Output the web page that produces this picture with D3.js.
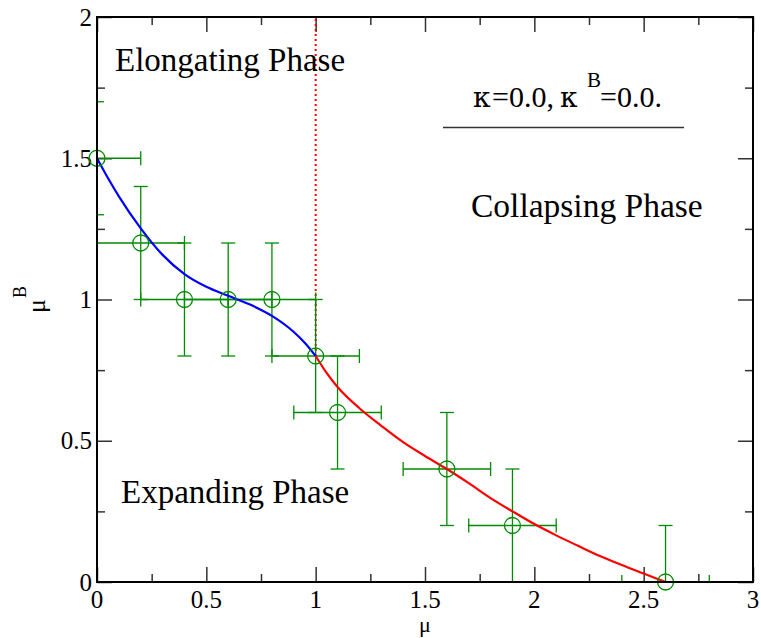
<!DOCTYPE html>
<html>
<head>
<meta charset="utf-8">
<script src="https://cdn.jsdelivr.net/npm/d3@7"></script>
<style>
  body { margin: 0; background: #fff; }
  svg { display: block; }
  text { font-family: "Liberation Serif", "Times New Roman", serif; fill: #000; }
</style>
</head>
<body>
<svg id="chart"></svg>
<script>
// measured points with error bars
const pointMu  = [0.0, 0.2, 0.4, 0.6, 0.8, 1.0, 1.1, 1.6, 1.9, 2.6];
const pointMuB = [1.5, 1.2, 1.0, 1.0, 1.0, 0.8, 0.6, 0.4, 0.2, 0.0];
const errMu    = [0.2, 0.2, 0.2, 0.2, 0.2, 0.2, 0.2, 0.2, 0.2, 0.2];
const errMuB   = [0.2, 0.2, 0.2, 0.2, 0.2, 0.2, 0.2, 0.2, 0.2, 0.2];

// blue boundary (elongating / expanding)
const blueMu  = [0.0, 0.05, 0.1, 0.2, 0.3, 0.4, 0.5, 0.6, 0.7, 0.8, 0.9, 0.95, 1.0];
const blueMuB = [1.5, 1.43, 1.365, 1.252, 1.158, 1.09, 1.045, 1.013, 0.982, 0.942, 0.885, 0.847, 0.8];

// red boundary (collapsing / expanding)
const redMu  = [1.0, 1.05, 1.1, 1.2, 1.3, 1.4, 1.5, 1.6, 1.7, 1.8, 1.9, 2.0, 2.1, 2.2, 2.3, 2.4, 2.5, 2.6];
const redMuB = [0.8, 0.74, 0.69, 0.615, 0.553, 0.495, 0.446, 0.40, 0.35, 0.297, 0.25, 0.205, 0.165, 0.128, 0.092, 0.06, 0.03, 0.0];

// dotted vertical boundary
const boundaryMu = 1.0;
const boundaryMuB = [0.8, 2.0];

const xTicks = [0, 0.5, 1, 1.5, 2, 2.5, 3];
const yTicks = [0, 0.5, 1, 1.5, 2];
const xMinor = [0.25, 0.75, 1.25, 1.75, 2.25, 2.75];
const yMinor = [0.25, 0.75, 1.25, 1.75];

const W = 761, H = 638;
const margin = {top: 17, right: 8, bottom: 56, left: 97};
const iw = W - margin.left - margin.right;
const ih = H - margin.top - margin.bottom;

const svg = d3.select('#chart').attr('width', W).attr('height', H);
const g = svg.append('g').attr('transform', `translate(${margin.left},${margin.top})`);

const x = d3.scaleLinear().domain([0, 3]).range([0, iw]);
const y = d3.scaleLinear().domain([0, 2]).range([ih, 0]);

g.append('clipPath').attr('id', 'plotclip')
  .append('rect').attr('width', iw).attr('height', ih);

// ticks on all four sides, pointing inward
function xSet(vals, len) {
  g.append('g').call(d3.axisBottom(x).tickValues(vals).tickSize(len).tickFormat(''))
    .attr('transform', `translate(0,${ih}) scale(1,-1)`);
  g.append('g').call(d3.axisBottom(x).tickValues(vals).tickSize(len).tickFormat(''));
}
function ySet(vals, len) {
  g.append('g').call(d3.axisRight(y).tickValues(vals).tickSize(len).tickFormat(''));
  g.append('g').call(d3.axisLeft(y).tickValues(vals).tickSize(len).tickFormat(''))
    .attr('transform', `translate(${iw},0)`);
}
xSet(xTicks, 15);
xSet(xMinor, 8);
ySet(yTicks, 15);
ySet(yMinor, 8);
g.selectAll('.domain').remove();
g.selectAll('.tick line').attr('stroke', '#333').attr('stroke-width', 1.5);

// tick labels
g.selectAll('.xlab').data(xTicks).enter().append('text')
  .attr('x', d => x(d)).attr('y', ih + 26)
  .attr('text-anchor', 'middle').style('font-size', '25px')
  .text(d => d3.format('~g')(d));
g.selectAll('.ylab').data(yTicks).enter().append('text')
  .attr('x', -5).attr('y', d => y(d) + 8.5)
  .attr('text-anchor', 'end').style('font-size', '25px')
  .text(d => d3.format('~g')(d));

// axis titles
g.append('text').attr('x', x(1.5)).attr('y', ih + 50)
  .attr('text-anchor', 'middle').style('font-size', '22px').text('μ');
const yt = svg.append('text')
  .attr('transform', `translate(45,${margin.top + ih / 2}) rotate(-90)`)
  .attr('text-anchor', 'middle').style('font-size', '26px');
yt.append('tspan').text('μ');
yt.append('tspan').attr('dy', -19).attr('dx', 1).style('font-size', '18px').text('B');

const plot = g.append('g').attr('clip-path', 'url(#plotclip)');

// dotted boundary
plot.append('line')
  .attr('x1', x(boundaryMu)).attr('x2', x(boundaryMu))
  .attr('y1', y(boundaryMuB[0])).attr('y2', y(boundaryMuB[1]))
  .attr('stroke', '#ff0000').attr('stroke-width', 2)
  .attr('stroke-dasharray', '2,3');

// error bars
const pts = pointMu.map((m, i) => ({m, b: pointMuB[i], em: errMu[i], eb: errMuB[i]}));
const green = '#008b00';
const cap = 7;
const eb = plot.append('g').attr('stroke', green).attr('stroke-width', 1.3).attr('fill', 'none');
pts.forEach(p => {
  const cx = x(p.m), cy = y(p.b);
  const xl = x(p.m - p.em), xr = x(p.m + p.em);
  const yt2 = y(p.b + p.eb), yb = y(p.b - p.eb);
  eb.append('line').attr('x1', xl).attr('x2', xr).attr('y1', cy).attr('y2', cy);
  eb.append('line').attr('x1', xl).attr('x2', xl).attr('y1', cy - cap).attr('y2', cy + cap);
  eb.append('line').attr('x1', xr).attr('x2', xr).attr('y1', cy - cap).attr('y2', cy + cap);
  eb.append('line').attr('x1', cx).attr('x2', cx).attr('y1', yt2).attr('y2', yb);
  eb.append('line').attr('x1', cx - cap).attr('x2', cx + cap).attr('y1', yt2).attr('y2', yt2);
  eb.append('line').attr('x1', cx - cap).attr('x2', cx + cap).attr('y1', yb).attr('y2', yb);
});

// boundary curves
const line = d3.line().x(d => x(d[0])).y(d => y(d[1])).curve(d3.curveMonotoneX);
g.append('path').datum(blueMu.map((m, i) => [m, blueMuB[i]]))
  .attr('d', line).attr('fill', 'none').attr('stroke', '#0000ff').attr('stroke-width', 2.2);
g.append('path').datum(redMu.map((m, i) => [m, redMuB[i]]))
  .attr('d', line).attr('fill', 'none').attr('stroke', '#ff0000').attr('stroke-width', 2.2);

// symbols (not clipped)
g.selectAll('.sym').data(pts).enter().append('circle')
  .attr('cx', d => x(d.m)).attr('cy', d => y(d.b)).attr('r', 8)
  .attr('fill', 'none').attr('stroke', green).attr('stroke-width', 1.3);

// frame
g.append('rect').attr('width', iw).attr('height', ih)
  .attr('fill', 'none').attr('stroke', '#000').attr('stroke-width', 2);

// phase labels
svg.append('text').attr('x', 115).attr('y', 71).style('font-size', '33px').text('Elongating Phase');
svg.append('text').attr('x', 471).attr('y', 217).style('font-size', '33.5px').text('Collapsing Phase');
svg.append('text').attr('x', 121).attr('y', 503).style('font-size', '33px').text('Expanding Phase');

// legend
const lg = svg.append('text').attr('y', 107).style('font-size', '30px');
lg.append('tspan').attr('x', 473).style('font-family', '"DejaVu Serif", serif').style('font-size', '28px').text('κ');
lg.append('tspan').attr('x', 492).text('=0.0,');
lg.append('tspan').attr('x', 560).style('font-family', '"DejaVu Serif", serif').style('font-size', '28px').text('κ');
lg.append('tspan').attr('x', 587).attr('dy', -20).style('font-size', '21px').text('B');
lg.append('tspan').attr('x', 600).attr('dy', 20).text('=0.0.');
svg.append('line').attr('x1', 443).attr('x2', 684).attr('y1', 127.5).attr('y2', 127.5)
  .attr('stroke', '#333').attr('stroke-width', 1.3);
</script>
</body>
</html>
